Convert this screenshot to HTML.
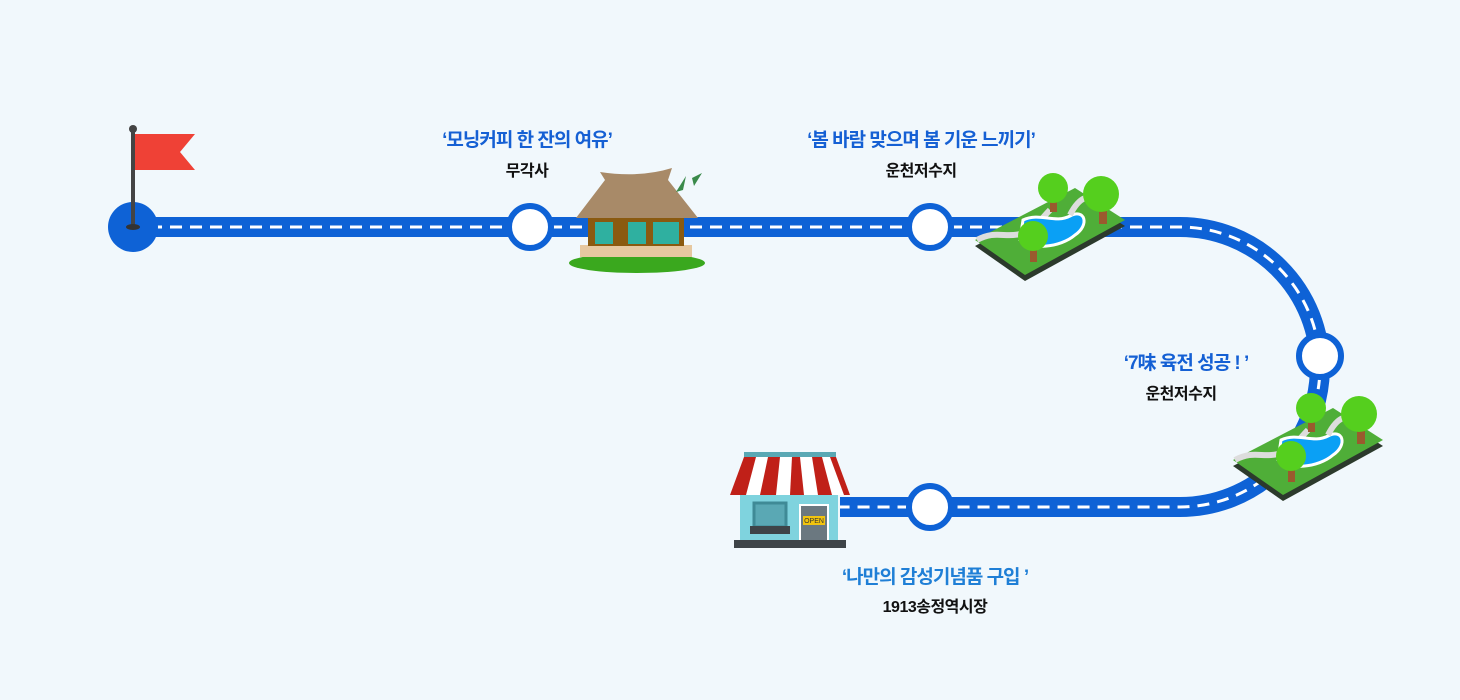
<!DOCTYPE html>
<html><head><meta charset="utf-8"><style>
body{margin:0;background:#f1f8fc;width:1460px;height:700px;overflow:hidden;font-family:"Liberation Sans","Noto Sans CJK KR",sans-serif}
.t{position:absolute;text-align:center;transform:translateX(-50%);white-space:nowrap}
.b{color:#1560d4;font-weight:bold;font-size:19px;letter-spacing:-1px}
.k{color:#111;font-weight:bold;font-size:16px;letter-spacing:-0.5px}
</style></head><body>
<svg width="1460" height="700" style="position:absolute;left:0;top:0">
<defs>
<g id="park">
<polygon points="0,60 100,8 150,40 50,95" fill="#2c3a2c" transform="translate(0,6)"/>
<polygon points="0,60 100,8 150,40 50,95" fill="#4fae38"/>
<path d="M2,60 C20,50 30,58 45,54 C60,50 65,40 75,30" stroke="#ddd" stroke-width="6" fill="none"/>
<path d="M48,40 C65,32 80,44 95,36 C110,28 115,45 100,55 C85,68 55,70 45,60 Z" fill="#0aa0f5" stroke="#fff" stroke-width="3"/>
<path d="M95,35 C100,25 105,20 110,18" stroke="#ddd" stroke-width="6" fill="none"/>
<rect x="75" y="12" width="7" height="20" fill="#9a5a2e"/><circle cx="78" cy="8" r="15" fill="#55cf1e"/>
<rect x="124" y="24" width="8" height="20" fill="#9a5a2e"/><circle cx="126" cy="14" r="18" fill="#55cf1e"/>
<rect x="55" y="64" width="7" height="18" fill="#9a5a2e"/><circle cx="58" cy="56" r="15" fill="#55cf1e"/>
</g>
</defs>
<path d="M133,227 H1180 A140,140 0 0 1 1180,507 H840" stroke="#0e62d6" stroke-width="20" fill="none"/>
<path d="M150,227 H1180 A140,140 0 0 1 1180,507 H840" stroke="#fff" stroke-width="3" stroke-dasharray="12,8" fill="none"/>
<circle cx="133" cy="227" r="25" fill="#0e62d6"/>
<line x1="133" y1="130" x2="133" y2="228" stroke="#444" stroke-width="4"/>
<circle cx="133" cy="129" r="4" fill="#444"/>
<polygon points="135,134 195,134 180,152 195,170 135,170" fill="#ef4136"/>
<ellipse cx="133" cy="227" rx="7" ry="3" fill="#333"/>
<g fill="#fff" stroke="#0e62d6" stroke-width="6">
<circle cx="530" cy="227" r="21"/><circle cx="930" cy="227" r="21"/><circle cx="1320" cy="356" r="21"/><circle cx="930" cy="507" r="21"/>
</g>
<!-- house -->
<ellipse cx="637" cy="263" rx="68" ry="10" fill="#3aa81e"/>
<rect x="580" y="245" width="112" height="12" fill="#e6c8a0"/>
<rect x="588" y="218" width="96" height="28" fill="#8a5a10"/>
<rect x="595" y="222" width="18" height="22" fill="#2fb0a0"/><rect x="628" y="222" width="18" height="22" fill="#2fb0a0"/><rect x="653" y="222" width="26" height="22" fill="#2fb0a0"/>
<path d="M600,172 Q640,178 672,168 L668,180 L698,218 L576,218 L605,180 Z" fill="#a88a68"/>
<path d="M683,190 L686,176 L676,192 Z M692,178 L702,173 L694,186Z" fill="#3a8a4a"/>
<use href="#park" transform="translate(975,180)"/>
<use href="#park" transform="translate(1233,400)"/>
<!-- shop -->
<rect x="740" y="492" width="98" height="50" fill="#7fd3de"/>
<rect x="754" y="503" width="32" height="24" fill="#5aa8b4" stroke="#3f8a96" stroke-width="3"/>
<rect x="750" y="526" width="40" height="8" fill="#3e4448"/>
<rect x="800" y="505" width="28" height="37" fill="#6b7880" stroke="#fff" stroke-width="2"/>
<rect x="803" y="516" width="22" height="9" fill="#f2c40e"/>
<text x="814" y="523" font-size="7" text-anchor="middle" fill="#333" font-family="Liberation Sans">OPEN</text>
<rect x="734" y="540" width="112" height="8" fill="#3e4448"/>
<rect x="744" y="452" width="92" height="5" fill="#5aa8b4"/>
<path d="M744,457 L836,457 L850,495 L730,495 Z" fill="#fff"/>
<g fill="#c02018"><path d="M744,457 L756,457 L746,495 L730,495Z"/><path d="M768,457 L780,457 L776,495 L760,495Z"/><path d="M792,457 L800,457 L804,495 L790,495Z"/><path d="M812,457 L822,457 L832,495 L818,495Z"/><path d="M830,457 L836,457 L850,495 L844,495Z"/></g>
</svg>
<div class="t b" style="left:527px;top:125px">‘모닝커피 한 잔의 여유’</div>
<div class="t k" style="left:527px;top:157px">무각사</div>
<div class="t b" style="left:921px;top:125px">‘봄 바람 맞으며 봄 기운 느끼기’</div>
<div class="t k" style="left:921px;top:157px">운천저수지</div>
<div class="t b" style="left:1186px;top:348px">‘7味 육전 성공 ! ’</div>
<div class="t k" style="left:1181px;top:380px">운천저수지</div>
<div class="t b" style="left:935px;top:562px;color:#1f7fd6">‘나만의 감성기념품 구입 ’</div>
<div class="t k" style="left:935px;top:593px">1913송정역시장</div>
</body></html>
